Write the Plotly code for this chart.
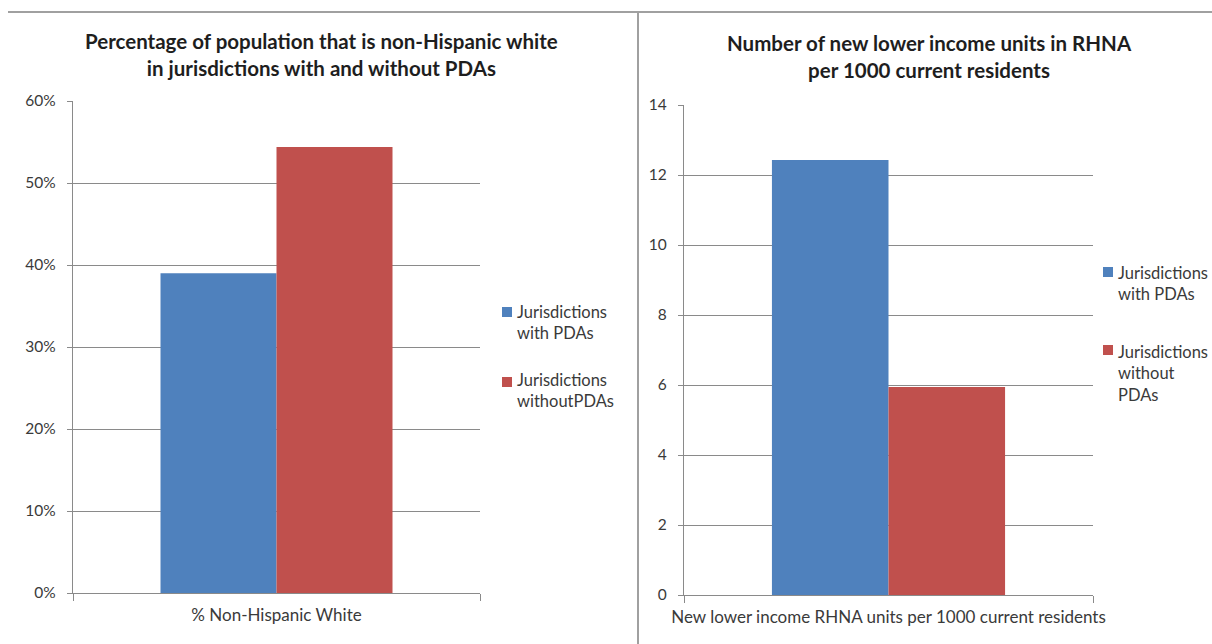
import plotly.graph_objects as go

# ---- data ----
left_categories = ["% Non-Hispanic White"]
left_with_pda = [0.390]
left_without_pda = [0.544]

right_categories = ["New lower income RHNA units per 1000 current residents"]
right_with_pda = [12.43]
right_without_pda = [5.94]

left_y_ticks = [0, 0.1, 0.2, 0.3, 0.4, 0.5, 0.6]
left_y_labels = ["0%", "10%", "20%", "30%", "40%", "50%", "60%"]
right_y_ticks = [0, 2, 4, 6, 8, 10, 12, 14]

left_series_names = ["Jurisdictions<br>with PDAs", "Jurisdictions<br>withoutPDAs"]
right_series_names = ["Jurisdictions<br>with PDAs", "Jurisdictions<br>without<br>PDAs"]

left_title = "Percentage of population that is non-Hispanic white<br>in jurisdictions with and without PDAs"
right_title = "Number of new lower income units in RHNA<br>per 1000 current residents"

BLUE = "#4F81BD"
RED = "#C0504D"
COLORS = [BLUE, RED]
FONT = "Lato"
W, H = 1212, 644
GRID = "#8a8a8a"
TXT = "#3a3a3a"


def px_x(x):
    return x / W


def px_y(y):
    return 1 - y / H


fig = go.Figure()

fig.add_trace(go.Bar(x=left_categories, y=left_with_pda, name=left_series_names[0],
                     marker=dict(color=BLUE, line=dict(width=0)), xaxis="x", yaxis="y"))
fig.add_trace(go.Bar(x=left_categories, y=left_without_pda, name=left_series_names[1],
                     marker=dict(color=RED, line=dict(width=0)), xaxis="x", yaxis="y"))
fig.add_trace(go.Bar(x=right_categories, y=right_with_pda, name=right_series_names[0],
                     marker=dict(color=BLUE, line=dict(width=0)), xaxis="x2", yaxis="y2"))
fig.add_trace(go.Bar(x=right_categories, y=right_without_pda, name=right_series_names[1],
                     marker=dict(color=RED, line=dict(width=0)), xaxis="x2", yaxis="y2"))

xfont = dict(family=FONT, size=17, color=TXT)
yfont = dict(family=FONT, size=15.5, color=TXT)

xcommon = dict(ticks="outside", tickson="boundaries", ticklen=7, tickcolor=GRID, showgrid=False,
               showline=True, linecolor=GRID, linewidth=1.3, tickfont=xfont, ticklabelstandoff=6,
               tickangle=0, automargin=False)
ycommon = dict(ticks="outside", ticklen=5, tickcolor=GRID, showgrid=True, gridcolor=GRID,
               gridwidth=1.2, zeroline=False, showline=True, linecolor=GRID, linewidth=1.3,
               tickfont=yfont, ticklabelstandoff=8, automargin=False)

fig.update_layout(
    width=W, height=H,
    margin=dict(l=0, r=0, t=0, b=0, autoexpand=False),
    paper_bgcolor="white", plot_bgcolor="white",
    barmode="group", bargap=0.43, bargroupgap=0,
    showlegend=False,
    font=dict(family=FONT, color=TXT),
    xaxis=dict(domain=[px_x(73), px_x(480)], anchor="y", **xcommon),
    yaxis=dict(domain=[px_y(593), px_y(101)], anchor="x", range=[0, 0.6], tickvals=left_y_ticks,
               ticktext=left_y_labels, **ycommon),
    xaxis2=dict(domain=[px_x(684), px_x(1093)], anchor="y2", **xcommon),
    yaxis2=dict(domain=[px_y(595), px_y(105)], anchor="x2", range=[0, 14], tickvals=right_y_ticks,
                **ycommon),
)

annotations = [
    dict(text="<b>" + left_title + "</b>", x=px_x(321), y=px_y(27), xref="paper", yref="paper",
         xanchor="center", yanchor="top", align="center", showarrow=False,
         font=dict(family=FONT, size=20.5, color="#1e1e1e")),
    dict(text="<b>" + right_title + "</b>", x=px_x(929), y=px_y(29), xref="paper", yref="paper",
         xanchor="center", yanchor="top", align="center", showarrow=False,
         font=dict(family=FONT, size=20.5, color="#1e1e1e")),
]

shapes = [
    dict(type="line", xref="paper", yref="paper", x0=px_x(8), x1=1, y0=px_y(12), y1=px_y(12),
         line=dict(color="#a0a0a0", width=2)),
    dict(type="line", xref="paper", yref="paper", x0=px_x(638), x1=px_x(638), y0=px_y(12), y1=0,
         line=dict(color="#a0a0a0", width=2)),
]

# manual legends (square swatch + multi-line label)
legend_specs = [
    (left_series_names, 502, [307, 377], [300, 368]),
    (right_series_names, 1103, [267, 345], [261, 340]),
]
for names, sx, sq_tops, txt_tops in legend_specs:
    for name, color, sq_top, txt_top in zip(names, COLORS, sq_tops, txt_tops):
        shapes.append(dict(type="rect", xref="paper", yref="paper",
                           x0=px_x(sx), x1=px_x(sx + 10), y0=px_y(sq_top + 10), y1=px_y(sq_top),
                           fillcolor=color, line=dict(width=0)))
        annotations.append(dict(text=name, x=px_x(sx + 13), y=px_y(txt_top), xref="paper", yref="paper",
                                xanchor="left", yanchor="top", align="left", showarrow=False,
                                font=dict(family=FONT, size=16.5, color=TXT)))

fig.update_layout(annotations=annotations, shapes=shapes)

fig.write_html("out.html", post_script="document.body.style.margin='0';document.body.style.overflow='hidden';")
